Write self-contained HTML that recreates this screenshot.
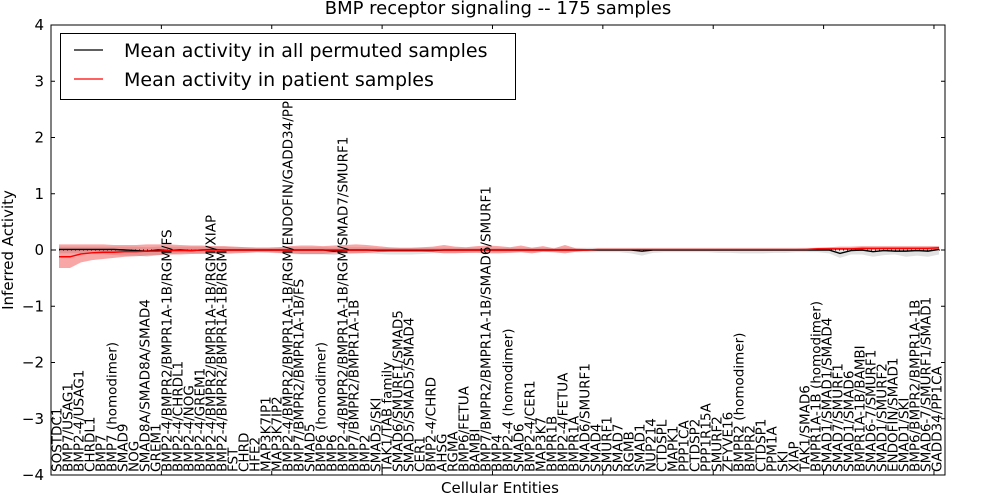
<!DOCTYPE html>
<html><head><meta charset="utf-8"><style>
body{margin:0;background:#fff;}
svg{display:block;font-family:"DejaVu Sans","Liberation Sans",sans-serif;}
</style></head><body>
<svg id="chart" width="1000" height="500" viewBox="0 0 1000 500">
<rect width="1000" height="500" fill="#fff"/>
<g id="bands"></g><g id="lines"></g><g id="xlabels"></g><g id="axes"></g>
</svg>
<script>
const categories=["SOSTDC1","BMP7/USAG1","BMP2-4/USAG1","CHRDL1","BMP7","BMP7 (homodimer)","SMAD9","NOG","SMAD8A/SMAD8A/SMAD4","GREM1","BMP2-4/BMPR2/BMPR1A-1B/RGM/FS","BMP2-4/CHRDL1","BMP2-4/NOG","BMP2-4/GREM1","BMP2-4/BMPR2/BMPR1A-1B/RGM/XIAP","BMP2-4/BMPR2/BMPR1A-1B/RGM","FST","CHRD","HFE2","MAP3K7IP1","MAP3K7IP2","BMP2-4/BMPR2/BMPR1A-1B/RGM/ENDOFIN/GADD34/PP1CA","BMP7/BMPR2/BMPR1A-1B/FS","SMAD5","BMP6 (homodimer)","BMP6","BMP2-4/BMPR2/BMPR1A-1B/RGM/SMAD7/SMURF1","BMP7/BMPR2/BMPR1A-1B","BMP2","SMAD5/SKI","TAK1/TAB family","SMAD6/SMURF1/SMAD5","SMAD5/SMAD5/SMAD4","CER1","BMP2-4/CHRD","AHSG","RGMA","BMP6/FETUA","BAMBI","BMP7/BMPR2/BMPR1A-1B/SMAD6/SMURF1","BMP4","BMP2-4 (homodimer)","SMAD6","BMP2-4/CER1","MAP3K7","BMPR1B","BMP2-4/FETUA","BMPR1A","SMAD6/SMURF1","SMAD4","SMURF1","SMAD7","RGMB","SMAD1","NUP214","CTDSPL","MAPK1","PPP1CA","CTDSP2","PPP1R15A","SMURF2","ZFYVE16","BMPR2 (homodimer)","BMPR2","CTDSP1","PPM1A","SKI","XIAP","TAK1/SMAD6","BMPR1A-1B (homodimer)","SMAD1/SMAD1/SMAD4","SMAD7/SMURF1","SMAD1/SMAD6","BMPR1A-1B/BAMBI","SMAD6-7/SMURF1","SMAD1/SMURF2","ENDOFIN/SMAD1","SMAD1/SKI","BMP6/BMPR2/BMPR1A-1B","SMAD6-7/SMURF1/SMAD1","GADD34/PP1CA"];
const permMean=[0.01,0.01,0.01,0.01,0.01,0.01,0.0,-0.01,-0.02,0.0,-0.01,0.0,-0.01,0.0,0.01,0.0,0.0,0.0,0.0,0.0,0.0,0.0,0.0,0.0,0.0,-0.02,0.0,0.0,0.0,-0.01,-0.01,-0.01,-0.01,-0.01,-0.01,0.0,0.0,0.0,0.0,0.0,0.0,0.0,0.0,0.0,0.0,0.0,0.0,0.0,0.0,0.0,0.0,0.0,0.0,-0.02,0.0,0.0,0.0,0.0,0.0,0.0,0.0,0.0,0.0,0.0,0.0,0.0,0.0,0.0,0.0,0.0,0.0,-0.06,-0.01,0.0,-0.03,-0.01,-0.02,-0.02,-0.01,-0.02,0.01];
const permLo=[-0.06,-0.06,-0.06,-0.06,-0.07,-0.09,-0.1,-0.1,-0.12,-0.09,-0.08,-0.06,-0.06,-0.05,-0.05,-0.05,-0.04,-0.04,-0.04,-0.05,-0.06,-0.07,-0.08,-0.08,-0.08,-0.09,-0.07,-0.06,-0.06,-0.07,-0.08,-0.08,-0.08,-0.07,-0.06,-0.05,-0.05,-0.05,-0.04,-0.04,-0.04,-0.04,-0.04,-0.04,-0.04,-0.04,-0.04,-0.04,-0.04,-0.04,-0.04,-0.04,-0.06,-0.1,-0.05,-0.04,-0.04,-0.04,-0.04,-0.04,-0.05,-0.05,-0.06,-0.06,-0.06,-0.05,-0.05,-0.04,-0.04,-0.04,-0.06,-0.14,-0.08,-0.08,-0.12,-0.09,-0.08,-0.12,-0.1,-0.12,-0.08];
const permHi=[0.06,0.06,0.06,0.06,0.06,0.06,0.06,0.06,0.05,0.06,0.06,0.06,0.06,0.06,0.06,0.06,0.05,0.05,0.05,0.05,0.05,0.05,0.05,0.05,0.05,0.04,0.05,0.05,0.05,0.04,0.04,0.04,0.04,0.04,0.04,0.04,0.04,0.04,0.04,0.04,0.04,0.04,0.04,0.04,0.04,0.04,0.04,0.04,0.04,0.04,0.04,0.04,0.04,0.04,0.04,0.04,0.04,0.04,0.04,0.04,0.04,0.04,0.04,0.04,0.04,0.04,0.04,0.04,0.04,0.04,0.04,0.04,0.04,0.05,0.04,0.05,0.05,0.05,0.05,0.05,0.05];
const patMean=[-0.12,-0.12,-0.07,-0.05,-0.04,-0.04,-0.03,-0.03,-0.02,-0.02,-0.01,-0.01,-0.01,0.0,0.0,0.0,0.0,0.0,0.0,0.0,0.0,0.0,0.0,0.0,0.0,0.0,0.0,0.0,0.0,0.0,0.0,0.0,0.0,0.0,0.0,0.0,0.0,0.0,0.0,0.0,0.0,0.0,0.0,0.0,0.0,0.0,0.0,0.0,0.0,0.01,0.01,0.01,0.01,0.01,0.01,0.01,0.01,0.01,0.01,0.01,0.01,0.01,0.01,0.01,0.01,0.01,0.01,0.01,0.01,0.02,0.02,0.02,0.02,0.03,0.03,0.03,0.03,0.03,0.03,0.03,0.04];
const patLo=[-0.32,-0.32,-0.22,-0.18,-0.16,-0.14,-0.12,-0.11,-0.1,-0.09,-0.08,-0.08,-0.07,-0.07,-0.07,-0.07,-0.06,-0.05,-0.04,-0.04,-0.05,-0.06,-0.07,-0.07,-0.07,-0.06,-0.06,-0.06,-0.05,-0.04,-0.03,-0.03,-0.03,-0.03,-0.04,-0.06,-0.06,-0.05,-0.05,-0.06,-0.06,-0.05,-0.04,-0.06,-0.03,-0.04,-0.06,-0.03,-0.01,0.0,0.0,0.0,0.0,0.0,0.0,0.0,0.0,0.0,0.0,0.0,0.0,0.0,0.0,0.0,0.0,0.0,0.0,0.0,0.0,0.0,0.0,0.0,0.0,0.0,0.0,0.0,0.0,0.0,0.0,0.0,0.01];
const patHi=[0.1,0.1,0.1,0.1,0.1,0.09,0.09,0.09,0.1,0.1,0.1,0.09,0.08,0.08,0.07,0.07,0.06,0.05,0.04,0.04,0.05,0.07,0.08,0.08,0.07,0.08,0.09,0.1,0.09,0.07,0.05,0.04,0.04,0.05,0.06,0.09,0.06,0.05,0.07,0.08,0.07,0.05,0.08,0.04,0.07,0.03,0.09,0.03,0.02,0.02,0.02,0.02,0.02,0.02,0.02,0.02,0.02,0.02,0.02,0.02,0.02,0.02,0.02,0.02,0.02,0.02,0.02,0.02,0.03,0.04,0.05,0.06,0.06,0.07,0.07,0.07,0.07,0.07,0.07,0.07,0.07];
const yTicks=[-4,-3,-2,-1,0,1,2,3,4];
const xTicks=[10,20,30,40,50,60,70,80];

const L=51,R=945,T=25,B=475,NS="http://www.w3.org/2000/svg";
const xs=i=>59+i*11.0;
const xt=v=>L+v*(R-L)/81;
const ys=v=>250-v*56.25;
function mk(tag,attrs,parent,text){const e=document.createElementNS(NS,tag);for(const k in attrs)e.setAttribute(k,attrs[k]);if(text!==undefined)e.textContent=text;parent.appendChild(e);return e;}
const bands=document.getElementById('bands'),lines=document.getElementById('lines'),xl=document.getElementById('xlabels'),ax=document.getElementById('axes');
function band(lo,hi,fill,op,name){let d='M'+lo.map((v,i)=>xs(i)+','+ys(hi[i])).join('L');for(let i=lo.length-1;i>=0;i--)d+='L'+xs(i)+','+ys(lo[i]);d+='Z';const p=mk('path',{d:d,fill:fill,'fill-opacity':op,stroke:'none'},bands);

}
band(permLo,permHi,'#bdbdbd',0.45,'permuted-band');
band(patLo,patHi,'#f02020',0.4,'patient-band');
const z=mk('line',{x1:L,x2:R,y1:ys(0),y2:ys(0),stroke:'#000','stroke-dasharray':'1,3','stroke-width':1},lines);


function line(arr,col,name){const p=mk('polyline',{points:arr.map((v,i)=>xs(i)+','+ys(v)).join(' '),fill:'none',stroke:col,'stroke-width':1.4},lines);

}
line(permMean,'#000','permuted-mean-line');
line(patMean,'#ff0000','patient-mean-line');
categories.forEach((c,i)=>{const x=xs(i)+2.5;const t=mk('text',{transform:`translate(${x},472) rotate(-90)`,'font-size':13.5,fill:'#000'},xl,c);

});
const fr=mk('rect',{x:L,y:T,width:R-L,height:B-T,fill:'none',stroke:'#000','stroke-width':1},ax);


yTicks.forEach(v=>{const y=ys(v);mk('line',{x1:L,x2:L+4,y1:y,y2:y,stroke:'#000'},ax);mk('line',{x1:R-4,x2:R,y1:y,y2:y,stroke:'#000'},ax);
const t=mk('text',{x:44,y:y+5,'font-size':15,'text-anchor':'end'},ax,String(v).replace('-','\u2212'));

});
xTicks.forEach(v=>{const x=xt(v);mk('line',{x1:x,x2:x,y1:T,y2:T+4,stroke:'#000'},ax);mk('line',{x1:x,x2:x,y1:B-4,y2:B,stroke:'#000'},ax);});
</script>
<svg style="position:absolute;left:0;top:0" width="1000" height="500">
<text x="498" y="14" font-size="18" text-anchor="middle" font-family="DejaVu Sans, Liberation Sans, sans-serif">BMP receptor signaling -- 175 samples</text>
<text x="500" y="493" font-size="15" text-anchor="middle" font-family="DejaVu Sans, Liberation Sans, sans-serif">Cellular Entities</text>
<text transform="translate(13,250) rotate(-90)" font-size="15" text-anchor="middle" font-family="DejaVu Sans, Liberation Sans, sans-serif">Inferred Activity</text>
<g>
<rect x="60.5" y="33.5" width="455" height="66" fill="#fff" stroke="#000"/>
<line x1="74" x2="103" y1="50" y2="50" stroke="#000" stroke-width="1.2"/>
<line x1="74" x2="103" y1="79" y2="79" stroke="#f00" stroke-width="1.2"/>
<text x="124" y="57" font-size="19" font-family="DejaVu Sans, Liberation Sans, sans-serif">Mean activity in all permuted samples</text>
<text x="124" y="86" font-size="19" font-family="DejaVu Sans, Liberation Sans, sans-serif">Mean activity in patient samples</text>
</g>
</svg>
</body></html>
